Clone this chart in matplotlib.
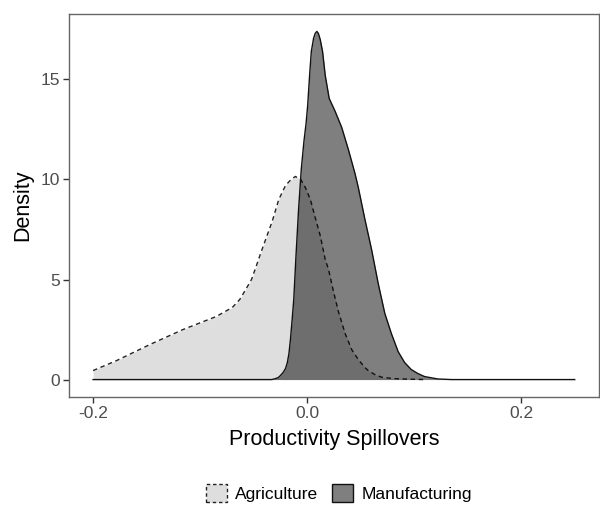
import matplotlib
matplotlib.use("Agg")
import matplotlib.pyplot as plt
from matplotlib.patches import Patch

plt.rcParams['font.family'] = ['Liberation Sans', 'DejaVu Sans']

# Kernel density estimates of productivity spillovers by sector
agri_x = [-0.200, -0.178, -0.147, -0.116, -0.085, -0.070, -0.063, -0.0574, -0.052,
          -0.048, -0.0435, -0.0388, -0.0327, -0.0265, -0.0202, -0.015, -0.011,
          -0.006, -0.0017, 0.003, 0.0075, 0.0122, 0.0169, 0.020, 0.0246, 0.0292,
          0.0355, 0.0416, 0.0478, 0.054, 0.0571, 0.0633, 0.0694, 0.080, 0.095, 0.110]
agri_y = [0.45, 0.95, 1.75, 2.5, 3.15, 3.6, 4.0, 4.5, 5.0,
          5.6, 6.3, 7.0, 7.9, 9.0, 9.7, 10.0, 10.15,
          10.0, 9.6, 9.0, 8.1, 7.2, 6.0, 5.5, 4.4, 3.4,
          2.3, 1.5, 1.0, 0.6, 0.45, 0.25, 0.12, 0.05, 0.02, 0.0]

manu_x = [-0.200, -0.040, -0.033, -0.0295, -0.027, -0.025, -0.0225, -0.0202, -0.0185,
          -0.017, -0.0156, -0.014, -0.0125, -0.0104, -0.008, -0.0055, -0.003, -0.001,
          0.0005, 0.0023, 0.0039, 0.006, 0.0075, 0.0091, 0.0105, 0.0122, 0.0144,
          0.0169, 0.0206, 0.0262, 0.0323, 0.0385, 0.0447, 0.0478, 0.054, 0.0602,
          0.0664, 0.0726, 0.0787, 0.085, 0.0911, 0.0973, 0.1035, 0.1097, 0.122,
          0.135, 0.250]
manu_y = [0.0, 0.0, 0.0, 0.05, 0.1, 0.2, 0.35, 0.55, 0.85,
          1.3, 2.0, 3.0, 4.0, 6.2, 8.5, 10.5, 11.9, 12.8,
          13.7, 15.2, 16.4, 17.05, 17.3, 17.4, 17.3, 17.0, 16.4,
          15.2, 14.05, 13.4, 12.6, 11.5, 10.3, 9.6, 8.0, 6.5,
          4.8, 3.3, 2.3, 1.4, 0.85, 0.5, 0.3, 0.15, 0.03,
          0.0, 0.0]

x_ticks = [-0.2, 0.0, 0.2]
x_tick_labels = ["-0.2", "0.0", "0.2"]
y_ticks = [0, 5, 10, 15]
series_names = ["Agriculture", "Manufacturing"]

fig = plt.figure(figsize=(6.0, 5.05), dpi=100)
ax = fig.add_axes([0.115, 0.2139, 0.883, 0.7584])

agri_fill = "#dedede"
manu_fill = "black"
manu_alpha = 0.5

ax.fill_between(agri_x, agri_y, 0, color=agri_fill, lw=0, zorder=1)
ax.plot(agri_x, agri_y, color="#222222", lw=1.0, ls=(0, (3.2, 2.6)), zorder=2,
        solid_joinstyle="round")
ax.fill_between(manu_x, manu_y, 0, color=manu_fill, alpha=manu_alpha, lw=0, zorder=3)
ax.plot(manu_x, manu_y, color="#111111", lw=1.0, zorder=4, solid_joinstyle="round")

ax.set_xlim(-0.2225, 0.2725)
ax.set_ylim(-0.87, 18.27)
ax.set_xticks(x_ticks)
ax.set_xticklabels(x_tick_labels)
ax.set_yticks(y_ticks)

for sp in ax.spines.values():
    sp.set_color("#666666")
    sp.set_linewidth(1.0)

ax.tick_params(axis="both", direction="out", length=4, width=1.0, color="#333333",
               labelcolor="#4d4d4d", labelsize=12.5, pad=2.5)

ax.set_xlabel("Productivity Spillovers", fontsize=15.5, color="black", labelpad=6)
ax.set_ylabel("Density", fontsize=15.5, color="black", labelpad=5)

handles = [
    Patch(facecolor=agri_fill, edgecolor="#222222", linestyle=(0, (2.5, 2)), lw=1.0),
    Patch(facecolor="#7f7f7f", edgecolor="#111111", lw=1.0),
]
fig.legend(handles, series_names, loc="center", bbox_to_anchor=(0.565, 0.024),
           ncol=2, frameon=False, fontsize=12.5, handlelength=1.2, handleheight=1.2,
           handletextpad=0.5, columnspacing=0.8)

fig.savefig("out.png", dpi=100)
